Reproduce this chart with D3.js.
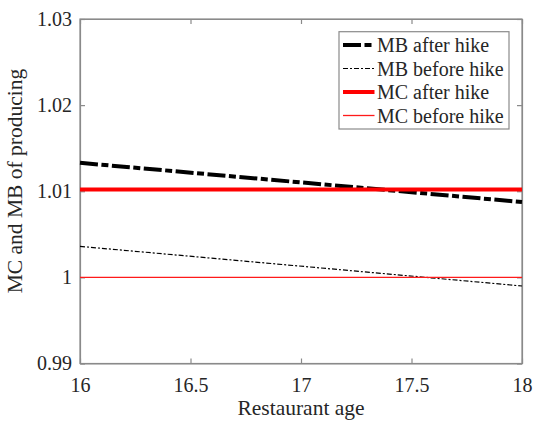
<!DOCTYPE html>
<html>
<head>
<meta charset="utf-8">
<script src="https://cdn.jsdelivr.net/npm/d3@7"></script>
<style>
  body { margin: 0; background: #fff; }
</style>
</head>
<body>
<svg id="chart" width="535" height="421"></svg>
<script>
const ages = [16, 18];
const mbAfter = [1.0133, 1.00875];
const mbBefore = [1.0036, 0.9990];
const mcAfter = [1.0102, 1.0102];
const mcBefore = [1.0, 1.0];

const ageTicks = [16, 16.5, 17, 17.5, 18];
const valueTicks = [0.99, 1.00, 1.01, 1.02, 1.03];
const valueLabels = ['0.99', '1', '1.01', '1.02', '1.03'];

const seriesNames = ['MB after hike', 'MB before hike', 'MC after hike', 'MC before hike'];

const margin = { top: 19, right: 13, bottom: 57.5, left: 80 };
const width = 535, height = 421;
const axisColor = '#8a8a8a';
const textColor = '#262626';
const serif = 'Liberation Serif';

const svg = d3.select('#chart');

const x = d3.scaleLinear()
    .domain([16, 18])
    .range([margin.left, width - margin.right]);
const y = d3.scaleLinear()
    .domain([0.99, 1.03])
    .range([height - margin.bottom, margin.top]);

// box + axes (ticks point inward on all four sides)
svg.append('rect')
    .attr('x', x(16)).attr('y', y(1.03))
    .attr('width', x(18) - x(16)).attr('height', y(0.99) - y(1.03))
    .attr('fill', 'none').attr('stroke', axisColor).attr('stroke-width', 1.2);

const styleAxis = g => {
    g.attr('font-family', serif).attr('font-size', 20);
    g.select('.domain').attr('stroke', axisColor).attr('stroke-width', 1.2);
    g.selectAll('.tick line').attr('stroke', axisColor).attr('stroke-width', 1.2);
    g.selectAll('.tick text').attr('fill', textColor);
};

svg.append('g')
    .attr('transform', `translate(0,${y(0.99)})`)
    .call(d3.axisBottom(x).tickValues(ageTicks).tickFormat(d3.format('')).tickSizeInner(-5).tickSizeOuter(0).tickPadding(14))
    .call(styleAxis);
svg.append('g')
    .attr('transform', `translate(0,${y(1.03)})`)
    .call(d3.axisTop(x).tickValues(ageTicks).tickFormat('').tickSizeInner(-5).tickSizeOuter(0))
    .call(styleAxis);
svg.append('g')
    .attr('transform', `translate(${x(16)},0)`)
    .call(d3.axisLeft(y).tickValues(valueTicks).tickFormat((d, i) => valueLabels[i]).tickSizeInner(-5).tickSizeOuter(0).tickPadding(8))
    .call(styleAxis);
svg.append('g')
    .attr('transform', `translate(${x(18)},0)`)
    .call(d3.axisRight(y).tickValues(valueTicks).tickFormat('').tickSizeInner(-5).tickSizeOuter(0))
    .call(styleAxis);

// labels
svg.append('text')
    .attr('x', (x(16) + x(18)) / 2).attr('y', 415)
    .attr('text-anchor', 'middle')
    .attr('font-family', serif)
    .attr('fill', textColor)
    .attr('font-size', 21.5)
    .text('Restaurant age');
svg.append('text')
    .attr('transform', 'translate(22,181) rotate(-90)')
    .attr('text-anchor', 'middle')
    .attr('font-family', serif)
    .attr('fill', textColor)
    .attr('font-size', 21.5)
    .text('MC and MB of producing');

// series
const styles = [
    { color: '#000', w: 4, dash: '18,3.5,7,3.5' },
    { color: '#000', w: 1.2, dash: '5,2,2,2' },
    { color: '#ff0000', w: 4, dash: null },
    { color: '#ff1a1a', w: 1.3, dash: null }
];
const seriesValues = [mbAfter, mbBefore, mcAfter, mcBefore];

const line = d3.line()
    .x(d => x(d[0]))
    .y(d => y(d[1]));

seriesValues.forEach((vals, i) => {
    svg.append('path')
        .datum(ages.map((a, j) => [a, vals[j]]))
        .attr('d', line)
        .attr('fill', 'none')
        .attr('stroke', styles[i].color)
        .attr('stroke-width', styles[i].w)
        .attr('stroke-dasharray', styles[i].dash);
});

// legend
const legend = svg.append('g');
legend.append('rect')
    .attr('x', 339).attr('y', 31.7)
    .attr('width', 170).attr('height', 97.3)
    .attr('fill', '#fff')
    .attr('stroke', axisColor).attr('stroke-width', 1.2);

const rowY = d3.scalePoint().domain(seriesNames).range([45, 115.5]);
seriesNames.forEach((name, i) => {
    legend.append('line')
        .attr('x1', 343).attr('x2', 374.5)
        .attr('y1', rowY(name)).attr('y2', rowY(name))
        .attr('stroke', styles[i].color)
        .attr('stroke-width', styles[i].w)
        .attr('stroke-dasharray', styles[i].dash);
    legend.append('text')
        .attr('x', 377).attr('y', rowY(name))
        .attr('dy', '0.35em')
        .attr('font-family', serif)
        .attr('fill', textColor)
        .attr('font-size', 20)
        .text(name);
});
</script>
</body>
</html>
